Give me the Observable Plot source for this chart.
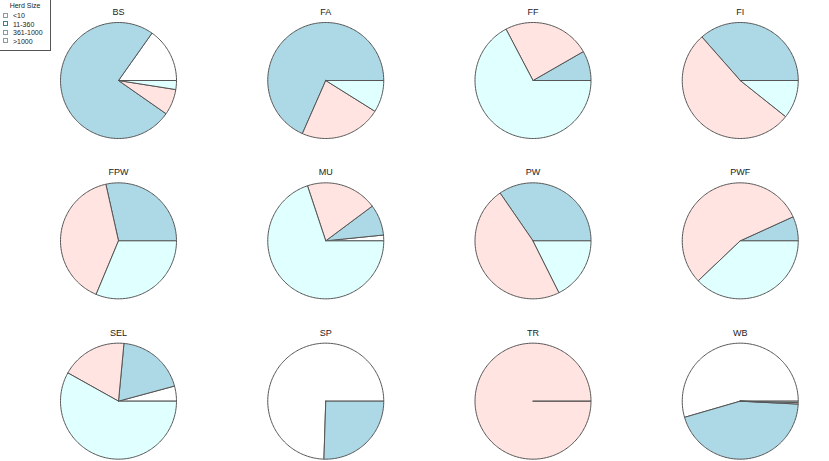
<!DOCTYPE html>
<html>
<head>
<meta charset="utf-8">
<script src="https://cdn.jsdelivr.net/npm/d3@7"></script>
<script src="https://cdn.jsdelivr.net/npm/@observablehq/plot@0.6"></script>
<style>
  body { margin: 0; background: #fff; font-family: "Liberation Sans", Arial, sans-serif; }
  #wrap { position: relative; width: 829px; height: 461px; overflow: hidden; }
  #legend { position: absolute; left: 0; top: 0; width: 51px; height: 51px; border: 1px solid #555; border-left: none; border-top: none; box-sizing: border-box; background: #fff; font-size: 7px; color: #222; }
  #legend .title { position: absolute; left: 0; width: 50px; top: 2px; text-align: center; }
  #legend .item { position: absolute; left: 3px; height: 8px; line-height: 8px; white-space: nowrap; }
  #legend .sw { display: inline-block; width: 3px; height: 3px; border: 1px solid #8a9aa0; margin-right: 5px; vertical-align: middle; position: relative; top: -1px; }
</style>
</head>
<body>
<div id="wrap"></div>
<script>
// Groups (one pie each), in reading order
const groups = ["BS", "FA", "FF", "FI", "FPW", "MU", "PW", "PWF", "SEL", "SP", "TR", "WB"];
// Herd size categories (legend labels)
const herdSizes = ["<10", "11-360", "361-1000", ">1000"];
// Share (%) of each herd size category per group
const lt10      = [15.2,  0,    0,    0,    0,    1.6,  0,    0,    4.2, 74.5,   0, 54.5];
const h11_360   = [75.1, 68.4,  8.3, 36.5, 28.5,  8.6, 34.6,  6.8, 19.3, 25.5,   0, 44.7];
const h361_1000 = [ 7.2, 22.7, 24.4, 52.8, 40.2, 19.9, 47.8, 55.3, 18.4,  0,   100,  0.4];
const gt1000    = [ 2.5,  8.9, 67.3, 10.7, 31.3, 69.9, 17.6, 37.9, 58.1,  0,     0,  0.4];
const sliceColors = ["white", "lightblue", "mistyrose", "lightcyan"];

const series = [lt10, h11_360, h361_1000, gt1000];

// Build slice polygons (counter-clockwise from 3 o'clock, as in R's pie)
const points = [];
groups.forEach((name, i) => {
  const col = i % 4, row = Math.floor(i / 4);
  const total = d3.sum(series, s => s[i]);
  let a = 0;
  let first = true;
  series.forEach((s, k) => {
    const v = s[i];
    if (!(v > 0)) return;
    const a0 = a, a1 = a + v / total * 2 * Math.PI;
    const id = `${i}-${k}`;
    const base = {id, cat: herdSizes[k], name, col, row};
    points.push({...base, x: 0, y: 0, first});
    first = false;
    const n = Math.max(2, Math.ceil((a1 - a0) / (2 * Math.PI / 240)));
    for (let j = 0; j <= n; j++) {
      const t = a0 + (a1 - a0) * j / n;
      points.push({...base, x: Math.cos(t), y: Math.sin(t), first: false});
    }
    points.push({...base, x: 0, y: 0, first: false});
    a = a1;
  });
});

const chart = Plot.plot({
  width: 829,
  height: 461,
  margin: 0,
  style: {background: "white", overflow: "visible"},
  x: {domain: [-1, 1], insetLeft: 60, insetRight: 31.25, axis: null},
  y: {domain: [-1, 1], insetTop: 22, insetBottom: 22.33, axis: null},
  fx: {domain: [0, 1, 2, 3], range: [0, 829], padding: 0, round: false, axis: null},
  fy: {domain: [0, 1, 2], range: [0, 481], padding: 0, round: false, axis: null},
  color: {domain: herdSizes, range: sliceColors},
  facet: {data: points, x: "col", y: "row", marginTop: 0, marginBottom: 0, marginLeft: 0, marginRight: 0},
  marks: [
    Plot.line(points, {x: "x", y: "y", z: "id", fill: "cat", stroke: "#555", strokeWidth: 1, strokeLinejoin: "round"}),
    Plot.text(points, {filter: d => d.first, x: 0, frameAnchor: "top", dy: 8, text: "name", fontSize: 9, fill: "#222", fontFamily: "Liberation Sans, Arial, sans-serif"})
  ]
});

const wrap = document.getElementById("wrap");
wrap.appendChild(chart);

// Legend overlay (top-left box, as in the reference)
const legend = document.createElement("div");
legend.id = "legend";
const title = document.createElement("div");
title.className = "title";
title.textContent = "Herd Size";
legend.appendChild(title);
const swatchStroke = ["#8a9aa0", "#3f7f8f", "#8a9aa0", "#8a9aa0"];
herdSizes.forEach((lab, k) => {
  const it = document.createElement("div");
  it.className = "item";
  it.style.top = (12 + k * 8.5) + "px";
  const sw = document.createElement("span");
  sw.className = "sw";
  sw.style.borderColor = swatchStroke[k];
  it.appendChild(sw);
  it.appendChild(document.createTextNode(lab));
  legend.appendChild(it);
});
wrap.appendChild(legend);
</script>
</body>
</html>
